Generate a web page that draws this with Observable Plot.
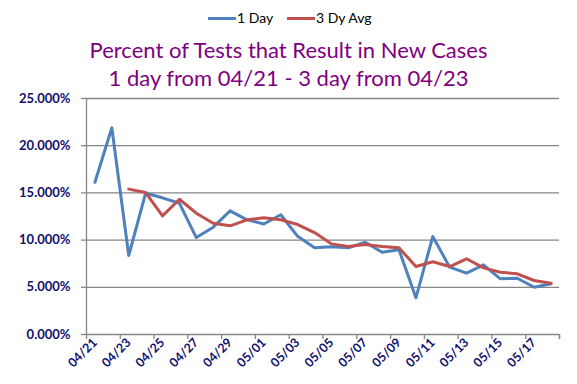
<!DOCTYPE html>
<html>
<head>
<meta charset="utf-8">
<script src="https://cdn.jsdelivr.net/npm/d3@7"></script>
<script src="https://cdn.jsdelivr.net/npm/@observablehq/plot@0.6"></script>
<style>
  html, body { margin: 0; padding: 0; background: #fff; }
  #wrap { width: 577px; height: 384px; position: relative; overflow: hidden; font-family: Lato, "Open Sans", sans-serif; }
  #head { height: 90px; position: relative; }
  .legend { position: absolute; top: 9px; left: 0; width: 577px; font-size: 14px; color: #000; }
  .li { position: absolute; top: 0; }
  .sw { position: absolute; top: 8px; width: 28px; height: 3px; }
  .title { position: absolute; left: 0; width: 577px; text-align: center; color: #7F007F; font-size: 22px; line-height: 28px; }
</style>
</head>
<body>
<div id="wrap">
  <div id="head"></div>
  <div id="chart"></div>
</div>
<script>
const days = ["04/21","04/22","04/23","04/24","04/25","04/26","04/27","04/28","04/29","04/30",
  "05/01","05/02","05/03","05/04","05/05","05/06","05/07","05/08","05/09","05/10",
  "05/11","05/12","05/13","05/14","05/15","05/16","05/17","05/18"];
const oneDay = [16.13, 21.9, 8.37, 14.97, 14.48, 13.9, 10.27, 11.37, 13.1, 12.15,
  11.7, 12.68, 10.4, 9.18, 9.3, 9.18, 9.78, 8.72, 8.97, 3.89,
  10.38, 7.13, 6.5, 7.38, 5.9, 5.96, 5.0, 5.37];
const avg3 = [null, null, 15.4, 15.04, 12.57, 14.33, 12.85, 11.79, 11.51, 12.15,
  12.36, 12.15, 11.65, 10.8, 9.6, 9.32, 9.53, 9.32, 9.18, 7.2,
  7.7, 7.2, 8.02, 7.06, 6.6, 6.43, 5.72, 5.43];
const yTicks = [0, 0.05, 0.10, 0.15, 0.20, 0.25];
const seriesNames = ["1 Day", "3 Dy Avg"];
const seriesColors = ["#4F81BD", "#C0504D"];
const titleLines = ["Percent of Tests that Result in New Cases", "1 day from 04/21 - 3 day from 04/23"];

const rows1 = days.map((d, i) => ({i, v: oneDay[i] / 100}));
const rows3 = days.map((d, i) => ({i, v: avg3[i] == null ? null : avg3[i] / 100}));
const labelIdx = days.map((d, i) => i).filter(i => i % 2 === 0 && i < 27);
const bounds = d3.range(-0.5, 28, 2).concat([27.5]);

// header: legend + title
const head = document.getElementById("head");
const legend = document.createElement("div");
legend.className = "legend";
const lx = [208, 287];
seriesNames.forEach((n, k) => {
  const sw = document.createElement("div");
  sw.className = "sw";
  sw.style.left = lx[k] + "px";
  sw.style.background = seriesColors[k];
  const t = document.createElement("div");
  t.className = "li";
  t.style.left = (lx[k] + 29) + "px";
  t.textContent = n;
  legend.appendChild(sw);
  legend.appendChild(t);
});
head.appendChild(legend);
titleLines.forEach((s, k) => {
  const t = document.createElement("div");
  t.className = "title";
  t.style.top = (36 + k * 28) + "px";
  t.textContent = s;
  head.appendChild(t);
});

const navy = "#10106E";
const gray = "#868686";
const chart = Plot.plot({
  width: 577,
  height: 294,
  marginTop: 8,
  marginBottom: 50,
  marginLeft: 86,
  marginRight: 18,
  style: {fontFamily: "Lato, 'Open Sans', sans-serif", background: "#fff"},
  x: {type: "linear", domain: [-0.5, 27.5]},
  y: {domain: [0, 0.25]},
  marks: [
    Plot.gridY(yTicks.filter(t => t > 0), {stroke: gray, strokeOpacity: 1, strokeWidth: 1.3}),
    Plot.ruleY([0], {stroke: gray, strokeWidth: 1.3}),
    Plot.ruleX([-0.5], {stroke: gray, strokeWidth: 1.3}),
    Plot.axisY({ticks: yTicks, tickSize: 5, stroke: gray, strokeWidth: 1.3, tickFormat: () => "", label: null}),
    Plot.axisY({ticks: yTicks, tickSize: 0, tickPadding: 16, tickFormat: d3.format(".3%"), fill: navy, fontWeight: "bold", fontSize: 13, label: null}),
    Plot.axisX({ticks: bounds, tickSize: 5, stroke: gray, strokeWidth: 1.3, tickFormat: () => "", label: null}),
    Plot.axisX({ticks: labelIdx, tickSize: 0, tickPadding: 6, tickRotate: -45, tickFormat: i => days[i], fill: navy, fontWeight: "bold", fontSize: 12.5, label: null}),
    Plot.line(rows1, {x: "i", y: "v", stroke: seriesColors[0], strokeWidth: 3}),
    Plot.line(rows3, {x: "i", y: "v", stroke: seriesColors[1], strokeWidth: 3, defined: d => d.v != null})
  ]
});
document.getElementById("chart").appendChild(chart);
</script>
</body>
</html>
